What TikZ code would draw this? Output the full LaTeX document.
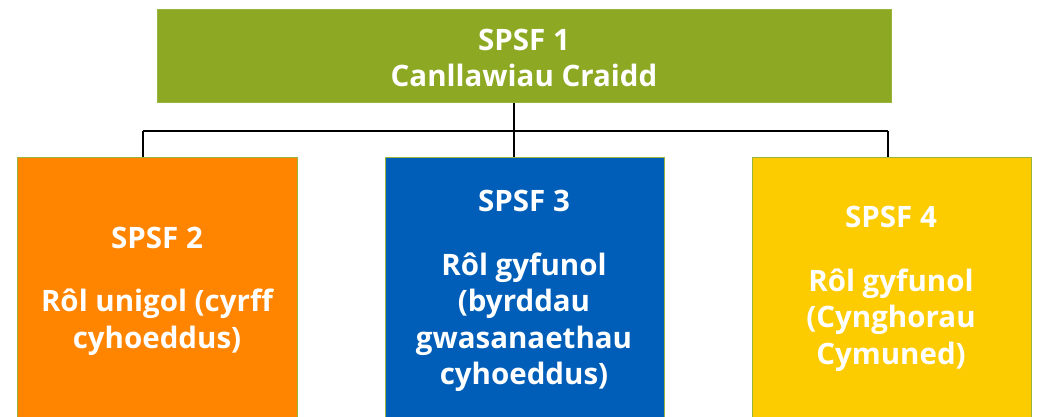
\documentclass[tikz,border=0pt]{standalone}
\usepackage{fontspec}
\setmainfont{Open Sans}
\begin{document}
\begin{tikzpicture}[x=1pt,y=-1pt,
  box/.style={draw=boxedge, line width=0.8pt, inner sep=0pt, anchor=north west},
  lbl/.style={text=white, font=\bfseries\fontsize{29.5}{36.5}\selectfont, align=center},
  conn/.style={draw=black, line width=1.3pt}]
\definecolor{topgreen}{HTML}{8DA923}
\definecolor{boxedge}{HTML}{9AB53C}
\definecolor{orangeb}{HTML}{FF8400}
\definecolor{blueb}{HTML}{005EB8}
\definecolor{yellowb}{HTML}{FCCB00}
\useasboundingbox (0,0) rectangle (1038,417);
\fill[white] (0,0) rectangle (1038,417);
% boxes
\node[box, fill=topgreen, minimum width=734pt, minimum height=93pt] (top) at (157,9.5) {};
\node[box, fill=orangeb, minimum width=280pt, minimum height=300pt] (o) at (17,156.5) {};
\node[box, fill=blueb, minimum width=279pt, minimum height=300pt] (b) at (384.5,156.5) {};
\node[box, fill=yellowb, minimum width=279pt, minimum height=300pt] (y) at (752,156.5) {};
\useasboundingbox (0,0) rectangle (1038,417);
% labels
\node[lbl] (tt) at (524,58) {SPSF 1\\Canllawiau Craidd};
\node[lbl] (ot) at (157,291) {SPSF 2\\[27pt]Rôl unigol (cyrff\\cyhoeddus)};
\node[lbl] (bt) at (524,291) {SPSF 3\\[27pt]Rôl gyfunol\\(byrddau\\gwasanaethau\\cyhoeddus)};
\node[lbl] (yt) at (891,289) {SPSF 4\\[27pt]Rôl gyfunol\\(Cynghorau\\Cymuned)};
% connectors
\coordinate (j) at (514,131);
\coordinate (l) at (143,131);
\coordinate (r) at (888,131);
\draw[conn] (top.south -| j) -- (j);
\draw[conn] (l) -- (r);
\draw[conn] (l) -- (l |- o.north);
\draw[conn] (j) -- (j |- b.north);
\draw[conn] (r) -- (r |- y.north);
\end{tikzpicture}
\end{document}
